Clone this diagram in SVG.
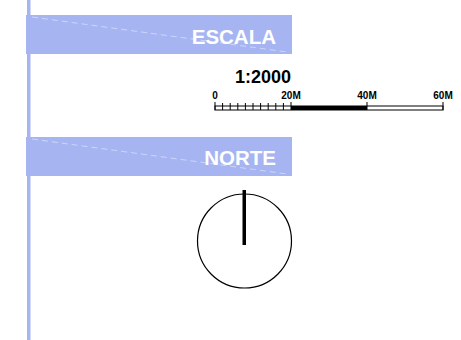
<svg xmlns="http://www.w3.org/2000/svg" width="461" height="340" viewBox="0 0 461 340">
<style>
.band{fill:#a6b5f2}
.title{font-family:"Liberation Sans",Arial,sans-serif;font-size:20.5px;font-weight:bold;fill:#ffffff;text-anchor:end}
.lbl{font-family:"Liberation Sans",Arial,sans-serif;font-size:10px;font-weight:bold;fill:#000;text-anchor:middle}
.diag{stroke:#ffffff;stroke-width:0.8;stroke-dasharray:6 4;opacity:0.55}
</style>
<rect width="461" height="340" fill="#ffffff"/>
<g id="frame">
<rect x="27" y="0" width="3.5" height="340" class="band"/>
</g>
<g id="escala-banner">
<rect x="26" y="15" width="266" height="39" class="band"/>
<line x1="32" y1="17" x2="287" y2="52" class="diag"/>
<text x="276" y="43.5" class="title">ESCALA</text>
</g>
<g id="scale">
<text x="263" y="83" font-family="'Liberation Sans',Arial,sans-serif" font-size="18" font-weight="bold" text-anchor="middle">1:2000</text>
<text x="215" y="99" class="lbl">0</text>
<text x="291" y="99" class="lbl">20M</text>
<text x="367" y="99" class="lbl">40M</text>
<text x="443" y="99" class="lbl">60M</text>
<rect x="215" y="106" width="228" height="4" fill="#ffffff" stroke="#000" stroke-width="1"/>
<rect x="291" y="106" width="76" height="4" fill="#000"/>
<g stroke="#000" stroke-width="1">
<line x1="215" y1="102" x2="215" y2="110"/>
<line x1="222.6" y1="103" x2="222.6" y2="110"/>
<line x1="230.2" y1="103" x2="230.2" y2="110"/>
<line x1="237.8" y1="103" x2="237.8" y2="110"/>
<line x1="245.4" y1="103" x2="245.4" y2="110"/>
<line x1="253" y1="103" x2="253" y2="110"/>
<line x1="260.6" y1="103" x2="260.6" y2="110"/>
<line x1="268.2" y1="103" x2="268.2" y2="110"/>
<line x1="275.8" y1="103" x2="275.8" y2="110"/>
<line x1="283.4" y1="103" x2="283.4" y2="110"/>
<line x1="291" y1="102" x2="291" y2="110"/>
<line x1="367" y1="102" x2="367" y2="110"/>
<line x1="443" y1="102" x2="443" y2="110"/>
</g>
</g>
<g id="norte-banner">
<rect x="26" y="137" width="266" height="39" class="band"/>
<line x1="32" y1="139" x2="287" y2="174" class="diag"/>
<text x="276" y="164.5" class="title">NORTE</text>
</g>
<g id="north-arrow">
<circle cx="244.5" cy="241" r="47" fill="none" stroke="#000" stroke-width="1.2"/>
<rect x="242.5" y="190" width="3.5" height="55" fill="#000"/>
</g>
</svg>
